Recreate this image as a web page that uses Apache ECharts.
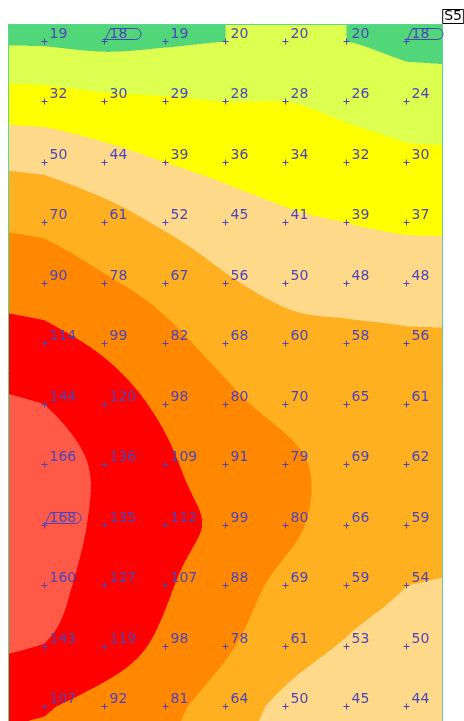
<!DOCTYPE html>
<html>
<head>
<meta charset="utf-8">
<script src="https://cdn.jsdelivr.net/npm/echarts@6/dist/echarts.min.js"></script>
<style>
  html, body { margin: 0; padding: 0; background: #fff; }
  #chart { width: 464px; height: 721px; }
</style>
</head>
<body>
<div id="chart"></div>
<script>
// Measured values, one array per survey row (top to bottom), 7 stations each.
const row01 = [19, 18, 19, 20, 20, 20, 18];
const row02 = [32, 30, 29, 28, 28, 26, 24];
const row03 = [50, 44, 39, 36, 34, 32, 30];
const row04 = [70, 61, 52, 45, 41, 39, 37];
const row05 = [90, 78, 67, 56, 50, 48, 48];
const row06 = [114, 99, 82, 68, 60, 58, 56];
const row07 = [144, 120, 98, 80, 70, 65, 61];
const row08 = [166, 136, 109, 91, 79, 69, 62];
const row09 = [168, 135, 112, 99, 80, 66, 59];
const row10 = [160, 127, 107, 88, 69, 59, 54];
const row11 = [143, 119, 98, 78, 61, 53, 50];
const row12 = [107, 92, 81, 64, 50, 45, 44];

// Contour band limits and the fill of each band (lowest first).
const levels = [20, 28, 39, 54, 75, 104, 144];
const bandColors = ['#52d67a', '#dcff50', '#ffff00', '#ffd98a', '#ffb020', '#ff8800', '#ff0000', '#ff5a48'];

const sheetTitle = 'S5';

const rows = [row01, row02, row03, row04, row05, row06, row07, row08, row09, row10, row11, row12];
const nRows = rows.length;

// Axis extents (station units) of the visible mapped area.
const X_MIN = -0.6, X_MAX = 6.6, Y_MIN = -0.29, Y_MAX = 11.24;

const points = [];
rows.forEach((r, j) => r.forEach((v, i) => points.push([i, j, v])));
const allVals = points.map(p => p[2]);
const vMin = Math.min.apply(null, allVals);
const vMax = Math.max.apply(null, allVals);

const inkColor = '#4d44b8';
const frameColor = '#5ad49a';

// Smooth 1-D interpolation through sample values (Catmull-Rom),
// continued past the ends with a damped slope.
function interp1(p, t, kLo, kHi) {
  const n = p.length;
  if (t <= 0) return p[0] + kLo * t * (p[1] - p[0]);
  if (t >= n - 1) return p[n - 1] + kHi * (t - (n - 1)) * (p[n - 1] - p[n - 2]);
  const i = Math.floor(t), u = t - i;
  const p1 = p[i], p2 = p[i + 1];
  const p0 = i > 0 ? p[i - 1] : 2 * p1 - p2;
  const p3 = i + 2 < n ? p[i + 2] : 2 * p2 - p1;
  const u2 = u * u, u3 = u2 * u;
  return 0.5 * ((2 * p1) + (-p0 + p2) * u + (2 * p0 - 5 * p1 + 4 * p2 - p3) * u2 + (-p0 + 3 * p1 - 3 * p2 + p3) * u3);
}

function bandIndex(v) {
  let k = 0;
  while (k < levels.length && v >= levels[k]) k++;
  return k;
}

function hexToRgb(h) {
  return [parseInt(h.slice(1, 3), 16), parseInt(h.slice(3, 5), 16), parseInt(h.slice(5, 7), 16)];
}
const bandRgb = bandColors.map(hexToRgb);

let fieldCache = null;
function buildField(w, h) {
  const key = w + 'x' + h;
  if (fieldCache && fieldCache.key === key) return fieldCache.canvas;
  const ss = 2;
  const W = Math.max(1, Math.round(w * ss)), H = Math.max(1, Math.round(h * ss));
  const cv = document.createElement('canvas');
  cv.width = W; cv.height = H;
  const ctx = cv.getContext('2d');
  const img = ctx.createImageData(W, H);
  // x-direction pass for every row
  const rowAt = [];
  for (let j = 0; j < nRows; j++) {
    const arr = new Float64Array(W);
    for (let px = 0; px < W; px++) {
      const x = X_MIN + (px + 0.5) / W * (X_MAX - X_MIN);
      arr[px] = interp1(rows[j], x, 0.35, 0.2);
    }
    rowAt.push(arr);
  }
  const col = new Array(nRows);
  for (let py = 0; py < H; py++) {
    const y = Y_MIN + (py + 0.5) / H * (Y_MAX - Y_MIN);
    for (let px = 0; px < W; px++) {
      for (let j = 0; j < nRows; j++) col[j] = rowAt[j][px];
      const v = interp1(col, y, 0, 0.5);
      const c = bandRgb[bandIndex(v)];
      const o = (py * W + px) * 4;
      img.data[o] = c[0]; img.data[o + 1] = c[1]; img.data[o + 2] = c[2]; img.data[o + 3] = 255;
    }
  }
  ctx.putImageData(img, 0, 0);
  fieldCache = { key: key, canvas: cv };
  return cv;
}

function renderField(params, api) {
  const tl = api.coord([X_MIN, Y_MIN]);
  const br = api.coord([X_MAX, Y_MAX]);
  const x0 = Math.min(tl[0], br[0]), y0 = Math.min(tl[1], br[1]);
  const w = Math.abs(br[0] - tl[0]), h = Math.abs(br[1] - tl[1]);
  const cv = buildField(w, h);
  const L = Math.round(x0) + 0.5, R = Math.round(x0 + w) - 0.5;
  const T = Math.round(y0) + 0.5, B = Math.round(y0 + h) + 2;
  return {
    type: 'group',
    children: [
      { type: 'image', style: { image: cv, x: x0, y: y0, width: w, height: h } },
      {
        type: 'polyline',
        shape: { points: [[L, B], [L, T], [R, T], [R, B]] },
        style: { fill: null, stroke: frameColor, lineWidth: 1 }
      }
    ]
  };
}

function renderStation(params, api) {
  const v = api.value(2);
  const p = api.coord([api.value(0), api.value(1)]);
  const cx = Math.floor(p[0]) + 0.5, cy = Math.floor(p[1]) + 0.5;
  const lineStyle = { stroke: inkColor, lineWidth: 1 };
  const children = [
    { type: 'line', shape: { x1: cx - 3, y1: cy, x2: cx + 3, y2: cy }, style: lineStyle },
    { type: 'line', shape: { x1: cx, y1: cy - 3, x2: cx, y2: cy + 3 }, style: lineStyle },
    {
      type: 'text',
      style: {
        text: String(v), x: cx + 5, y: cy - 7,
        fill: inkColor, fontSize: 14, fontFamily: 'DejaVu Sans',
        align: 'left', verticalAlign: 'middle'
      }
    }
  ];
  if (v === vMin || v === vMax) {
    const yb = cy - 2, yt = cy - 13, r = (yb - yt) / 2, xr = cx + 31;
    children.push({
      type: 'path',
      shape: {
        pathData: 'M' + (cx - 2) + ' ' + yb + ' L' + xr + ' ' + yb +
          ' A' + r + ' ' + r + ' 0 0 0 ' + xr + ' ' + yt +
          ' L' + (cx + 6) + ' ' + yt + ' L' + (cx + 1) + ' ' + yb
      },
      style: { fill: null, stroke: inkColor, lineWidth: 1 }
    });
  }
  return { type: 'group', children: children };
}

const chart = echarts.init(document.getElementById('chart'), null, { renderer: 'canvas' });
chart.setOption({
  animation: false,
  backgroundColor: '#ffffff',
  title: {
    text: sheetTitle, right: 0, top: 9,
    padding: [0, 2, 0, 2],
    borderColor: '#000', borderWidth: 1,
    textStyle: { fontSize: 14, fontWeight: 'normal', color: '#000', fontFamily: 'DejaVu Sans', lineHeight: 15 }
  },
  grid: { left: 8, right: 21, top: 24, bottom: 0, show: false },
  xAxis: { type: 'value', min: X_MIN, max: X_MAX, show: false },
  yAxis: { type: 'value', min: Y_MIN, max: Y_MAX, inverse: true, show: false },
  series: [
    { type: 'custom', name: 'field', silent: true, clip: false, data: [[0, 0]], renderItem: renderField, z: 1 },
    { type: 'custom', name: 'stations', silent: true, clip: false, data: points, renderItem: renderStation, z: 2 }
  ]
});
</script>
</body>
</html>
